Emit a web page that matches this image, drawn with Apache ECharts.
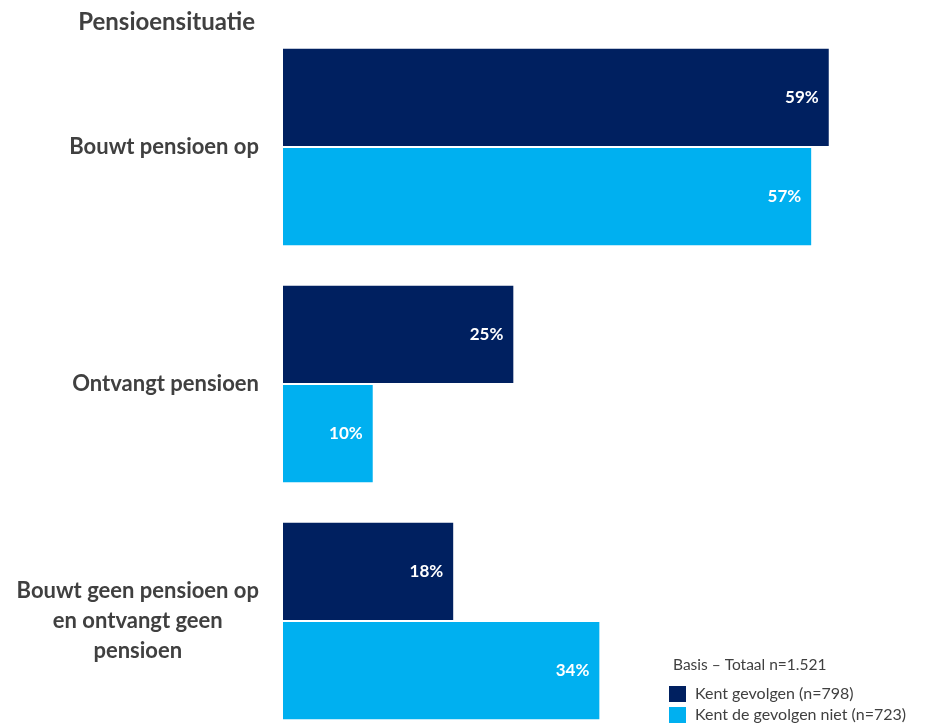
<!DOCTYPE html>
<html><head><meta charset="utf-8">
<script src="https://cdn.jsdelivr.net/npm/echarts@6/dist/echarts.min.js"></script>
<style>html,body{margin:0;padding:0;background:#fff;overflow:hidden}#c{width:926px;height:745px}</style>
</head><body><div id="c"></div>
<script>
const categories = ['Bouwt pensioen op', 'Ontvangt pensioen', 'Bouwt geen pensioen op\nen ontvangt geen\npensioen'];
const seriesNames = ['Kent gevolgen (n=798)', 'Kent de gevolgen niet (n=723)'];
const kentGevolgen = [59.0, 24.9, 18.4];
const kentGevolgenNiet = [57.1, 9.7, 34.2];
const titleText = 'Pensioensituatie';
const basisText = 'Basis – Totaal n=1.521';

const FONT = 'Lato';
const TXT = '#404040';
const chart = echarts.init(document.getElementById('c'));
const labelStyle = {
  show: true, position: 'insideRight', distance: 10,
  color: '#fff', fontWeight: 'bold', fontSize: 17, fontFamily: FONT,
  formatter: p => Math.round(p.value) + '%'
};
const legendBase = {
  left: 669, padding: 0, itemWidth: 17, itemHeight: 16, icon: 'rect', itemGap: 0,
  textStyle: { fontFamily: FONT, fontSize: 16, color: TXT, padding: [0, 0, 0, 4] }, selectedMode: false
};
chart.setOption({
  animation: false,
  title: [
    { text: titleText, right: 666, top: 5,
      textStyle: { fontFamily: FONT, fontWeight: 'bold', fontSize: 24, color: TXT } },
    { text: basisText, left: 673, top: 657, padding: 0,
      textStyle: { fontFamily: FONT, fontWeight: 'normal', fontSize: 15.5, color: TXT } }
  ],
  legend: [
    Object.assign({}, legendBase, { top: 686, data: [seriesNames[0]] }),
    Object.assign({}, legendBase, { top: 707, data: [seriesNames[1]] })
  ],
  grid: { left: 283, top: 28.5, width: 555, height: 711 },
  xAxis: { type: 'value', min: 0, max: 60, show: false },
  yAxis: {
    type: 'category', inverse: true, data: categories,
    axisLine: { show: false }, axisTick: { show: false },
    axisLabel: {
      margin: 24, align: 'right',
      fontFamily: FONT, fontWeight: 'bold', fontSize: 22, color: TXT, lineHeight: 30,
      formatter: v => v.split('\n').map(l => '{c|' + l + '}').join('\n'),
      rich: { c: { align: 'center', fontFamily: FONT, fontWeight: 'bold', fontSize: 22, color: TXT, lineHeight: 30 } }
    }
  },
  series: [
    { name: seriesNames[0], type: 'bar', data: kentGevolgen, barGap: '2%', barCategoryGap: '17%',
      itemStyle: { color: '#002060' }, label: labelStyle },
    { name: seriesNames[1], type: 'bar', data: kentGevolgenNiet,
      itemStyle: { color: '#00B0F0' }, label: labelStyle }
  ]
});
</script></body></html>
